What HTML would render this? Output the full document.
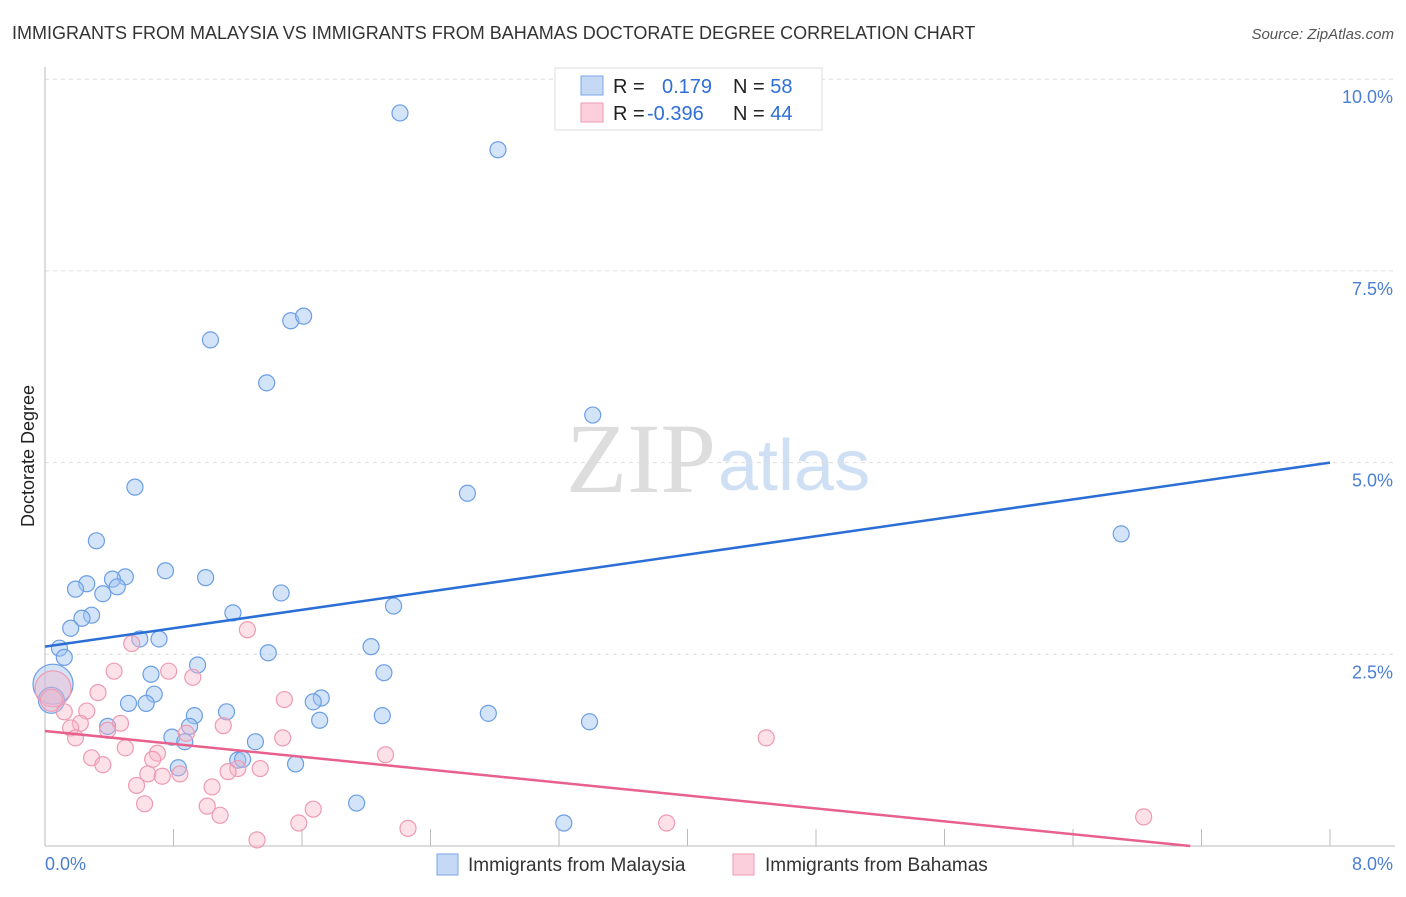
<!DOCTYPE html>
<html><head><meta charset="utf-8"><style>
body{margin:0;background:#fff;font-family:"Liberation Sans",sans-serif;}
</style></head><body>
<svg width="1406" height="892" xmlns="http://www.w3.org/2000/svg" font-family="Liberation Sans, sans-serif">
<text x="12" y="39" font-size="18" fill="#333">IMMIGRANTS FROM MALAYSIA VS IMMIGRANTS FROM BAHAMAS DOCTORATE DEGREE CORRELATION CHART</text>
<text x="1394" y="39" font-size="15" fill="#555" font-style="italic" text-anchor="end">Source: ZipAtlas.com</text>
<text x="716" y="492" font-size="100" fill="#ddd" text-anchor="end" font-family="Liberation Serif, serif">ZIP</text>
<text x="718" y="490" font-size="72" fill="#cfe0f5">atlas</text>
<g id="grid"></g><g id="axes"></g>
<text transform="translate(34,456) rotate(-90)" font-size="18" fill="#222" text-anchor="middle">Doctorate Degree</text>
<g id="pts"></g><g id="lines"></g>
<g>
<rect x="555" y="68" width="267" height="62" fill="#fff" stroke="#ddd"/>
<rect x="581" y="76" width="22" height="19" fill="#c5d9f5" stroke="#7aa6e6"/>
<rect x="581" y="103" width="22" height="19" fill="#fbd0dc" stroke="#ee9ab2"/>
<text x="613" y="93" font-size="20" fill="#222">R = <tspan fill="#2f6fd6" x="662">0.179</tspan><tspan fill="#222" x="733">N = </tspan><tspan fill="#2f6fd6">58</tspan></text>
<text x="613" y="120" font-size="20" fill="#222">R = <tspan fill="#2f6fd6" x="647">-0.396</tspan><tspan fill="#222" x="733">N = </tspan><tspan fill="#2f6fd6">44</tspan></text>
</g>
<g>
<rect x="437" y="854" width="21" height="21" fill="#c5d9f5" stroke="#7aa6e6"/>
<text x="468" y="871" font-size="19" fill="#333">Immigrants from Malaysia</text>
<rect x="733" y="854" width="21" height="21" fill="#fbd0dc" stroke="#ee9ab2"/>
<text x="765" y="871" font-size="19" fill="#333">Immigrants from Bahamas</text>
</g>
</svg>
<script>
const xTicks=[0,0.8,1.6,2.4,3.2,4.0,4.8,5.6,6.4,7.2,8.0];
const yTicks=[2.5,5.0,7.5,10.0];
const yTickLabels=["2.5%","5.0%","7.5%","10.0%"];
const xEndLabels=["0.0%","8.0%"];
const malaysiaX=[2.21,2.82,1.03,1.53,1.61,1.38,3.41,0.56,2.63,6.70,0.32,0.75,1.00,0.50,0.42,0.26,0.19,0.45,0.36,1.47,1.17,2.17,0.29,0.23,0.16,0.59,0.71,0.09,0.12,2.03,1.39,0.95,0.66,2.11,0.68,0.52,0.63,1.72,1.67,0.05,0.04,0.93,1.13,1.71,2.10,2.76,3.39,0.39,0.90,0.79,0.87,1.31,1.20,1.23,0.83,1.56,1.94,3.23];
const malaysiaY=[9.56,9.08,6.60,6.85,6.91,6.04,5.62,4.68,4.60,4.07,3.98,3.59,3.50,3.51,3.48,3.42,3.35,3.38,3.29,3.30,3.04,3.13,3.01,2.97,2.84,2.70,2.70,2.58,2.46,2.60,2.52,2.36,2.24,2.26,1.98,1.86,1.86,1.93,1.88,2.11,1.90,1.70,1.75,1.64,1.70,1.73,1.62,1.56,1.56,1.42,1.36,1.36,1.12,1.13,1.02,1.07,0.56,0.30];
const malaysiaR=[8,8,8,8,8,8,8,8,8,8,8,8,8,8,8,8,8,8,8,8,8,8,8,8,8,8,8,8,8,8,8,8,8,8,8,8,8,8,8,20,13,8,8,8,8,8,8,8,8,8,8,8,8,8,8,8,8,8];
const bahamasX=[0.05,0.04,1.26,0.54,0.43,0.77,0.92,0.33,1.49,0.12,0.26,0.22,0.47,1.11,0.88,0.16,0.39,0.19,1.48,4.49,0.50,0.70,0.67,0.29,2.12,0.36,0.64,1.20,1.14,1.34,0.73,0.84,0.57,1.04,0.62,1.01,1.67,1.09,1.58,3.87,6.84,2.26,1.32];
const bahamasY=[2.05,1.90,2.82,2.64,2.28,2.28,2.20,2.00,1.91,1.75,1.76,1.60,1.60,1.57,1.47,1.54,1.51,1.41,1.41,1.41,1.28,1.21,1.13,1.15,1.19,1.06,0.94,1.01,0.97,1.01,0.91,0.94,0.79,0.77,0.55,0.52,0.48,0.40,0.30,0.30,0.38,0.23,0.08];
const bahamasR=[18,11,8,8,8,8,8,8,8,8,8,8,8,8,8,8,8,8,8,8,8,8,8,8,8,8,8,8,8,8,8,8,8,8,8,8,8,8,8,8,8,8,8];
const malaysiaTrend=[[0,2.60],[8,5.00]];
const bahamasTrend=[[0,1.50],[7.13,0]];
const NS="http://www.w3.org/2000/svg";
const X0=45,X1=1330,Y0=846,PX=191.7/2.5;
const sx=v=>X0+(v/8)*(X1-X0), sy=v=>Y0-v*PX;
function mk(t,a,p){const e=document.createElementNS(NS,t);for(const k in a)e.setAttribute(k,a[k]);p.appendChild(e);return e;}
const grid=document.getElementById('grid'),axes=document.getElementById('axes');
yTicks.forEach((v,i)=>{
 const l=mk('line',{x1:X0,x2:1395,y1:sy(v),y2:sy(v),stroke:'#ddd','stroke-dasharray':'4,4'},grid);
 
 
 const t=mk('text',{x:1393,y:sy(v)+24,'font-size':18,fill:'#4a7fd4','text-anchor':'end'},axes);
 t.textContent=yTickLabels[i];
 
 
});
mk('line',{x1:X0,x2:X0,y1:67,y2:846,stroke:'#bbb'},axes);
mk('line',{x1:X0,x2:1395,y1:846,y2:846,stroke:'#bbb'},axes);
xTicks.forEach(v=>{const l=mk('line',{x1:sx(v),x2:sx(v),y1:829,y2:846,stroke:'#bbb'},axes);
 
 });
[[0,'start',45],[8,'end',1393]].forEach((a,i)=>{const t=mk('text',{x:a[2],y:870,'font-size':18,fill:'#4a7fd4','text-anchor':a[1]},axes);t.textContent=xEndLabels[i];
 
 });
const pts=document.getElementById('pts');
malaysiaX.forEach((v,i)=>{const c=mk('circle',{cx:sx(v),cy:sy(malaysiaY[i]),r:malaysiaR[i],fill:'rgba(160,195,240,0.45)',stroke:'#6b9ee6','stroke-width':1.2},pts);
 
 });
bahamasX.forEach((v,i)=>{const c=mk('circle',{cx:sx(v),cy:sy(bahamasY[i]),r:bahamasR[i],fill:'rgba(248,180,200,0.4)',stroke:'#ee9ab2','stroke-width':1.2},pts);
 
 });
const lines=document.getElementById('lines');
const l1=mk('line',{x1:sx(malaysiaTrend[0][0]),y1:sy(malaysiaTrend[0][1]),x2:sx(malaysiaTrend[1][0]),y2:sy(malaysiaTrend[1][1]),stroke:'#2b6fd6','stroke-width':2.5},lines);


const l2=mk('line',{x1:sx(bahamasTrend[0][0]),y1:sy(bahamasTrend[0][1]),x2:sx(bahamasTrend[1][0]),y2:sy(bahamasTrend[1][1]),stroke:'#e8608c','stroke-width':2.5},lines);


</script>
</body></html>
